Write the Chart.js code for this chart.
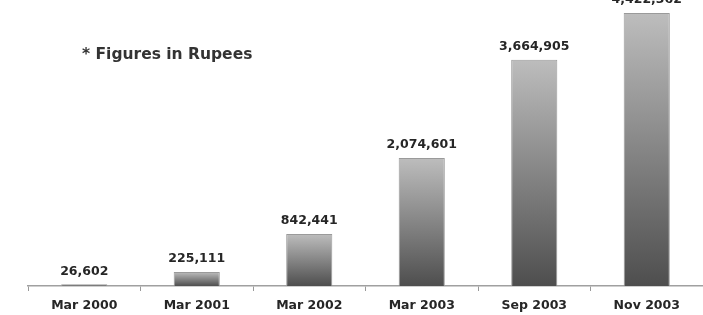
<!DOCTYPE html>
<html>
<head>
<meta charset="utf-8">
<script src="https://cdn.jsdelivr.net/npm/chart.js@4/dist/chart.umd.min.js"></script>
<style>
  html, body { margin: 0; padding: 0; background: #fff; }
  #wrap { width: 703px; height: 315px; position: relative; }
</style>
</head>
<body>
<div id="wrap"><canvas id="chart"></canvas></div>
<script>
// data
const periods = ["Mar 2000", "Mar 2001", "Mar 2002", "Mar 2003", "Sep 2003", "Nov 2003"];
const amounts = [26602, 225111, 842441, 2074601, 3664905, 4422362];
const yMax = 4634000;
const note = "* Figures in Rupees";

const fam = "'DejaVu Sans', Arial, sans-serif";

// gradient per bar, light on top, dark at the base
function barGradient(context) {
    const chart = context.chart;
    if (!chart.chartArea) return "#888";
    const y = chart.scales.y;
    const top = y.getPixelForValue(context.raw);
    const base = y.getPixelForValue(0);
    const g = chart.ctx.createLinearGradient(0, top, 0, Math.max(base, top + 1));
    g.addColorStop(0, "#bdbdbd");
    g.addColorStop(1, "#4e4e4e");
    return g;
}

// values over the bars + the note in the corner
const extras = {
    id: "extras",
    afterDatasetsDraw(chart) {
        const ctx = chart.ctx;
        const meta = chart.getDatasetMeta(0);
        ctx.save();
        ctx.font = "bold 12.5px " + fam;
        ctx.fillStyle = "#262626";
        ctx.textAlign = "center";
        ctx.textBaseline = "middle";
        meta.data.forEach((bar, i) => {
            ctx.fillText(amounts[i].toLocaleString("en-US"), bar.x, bar.y - 13);
        });
        ctx.font = "bold 15.5px " + fam;
        ctx.fillStyle = "#333";
        ctx.textAlign = "left";
        ctx.fillText(note, 82, 55);
        ctx.restore();
    }
};

new Chart(document.getElementById("chart"), {
    type: "bar",
    data: {
        labels: periods,
        datasets: [{
            data: amounts,
            backgroundColor: barGradient,
            borderColor: "#9a9a9a",
            borderWidth: 1,
            barPercentage: 0.41,
            categoryPercentage: 1
        }]
    },
    options: {
        responsive: true,
        maintainAspectRatio: false,
        animation: false,
        layout: { padding: { left: 28, right: 0, top: 0, bottom: -5 } },
        plugins: {
            legend: { display: false },
            tooltip: { enabled: false }
        },
        scales: {
            x: {
                grid: {
                    display: true,
                    drawOnChartArea: false,
                    drawTicks: true,
                    tickLength: 5,
                    color: "#999",
                    offset: true
                },
                border: { display: true, color: "#a0a0a0", width: 1.5 },
                ticks: {
                    color: "#262626",
                    font: { family: fam, size: 12.5, weight: "bold" },
                    padding: 7,
                    maxRotation: 0
                }
            },
            y: {
                display: false,
                min: 0,
                max: yMax
            }
        }
    },
    plugins: [extras]
});
</script>
</body>
</html>
